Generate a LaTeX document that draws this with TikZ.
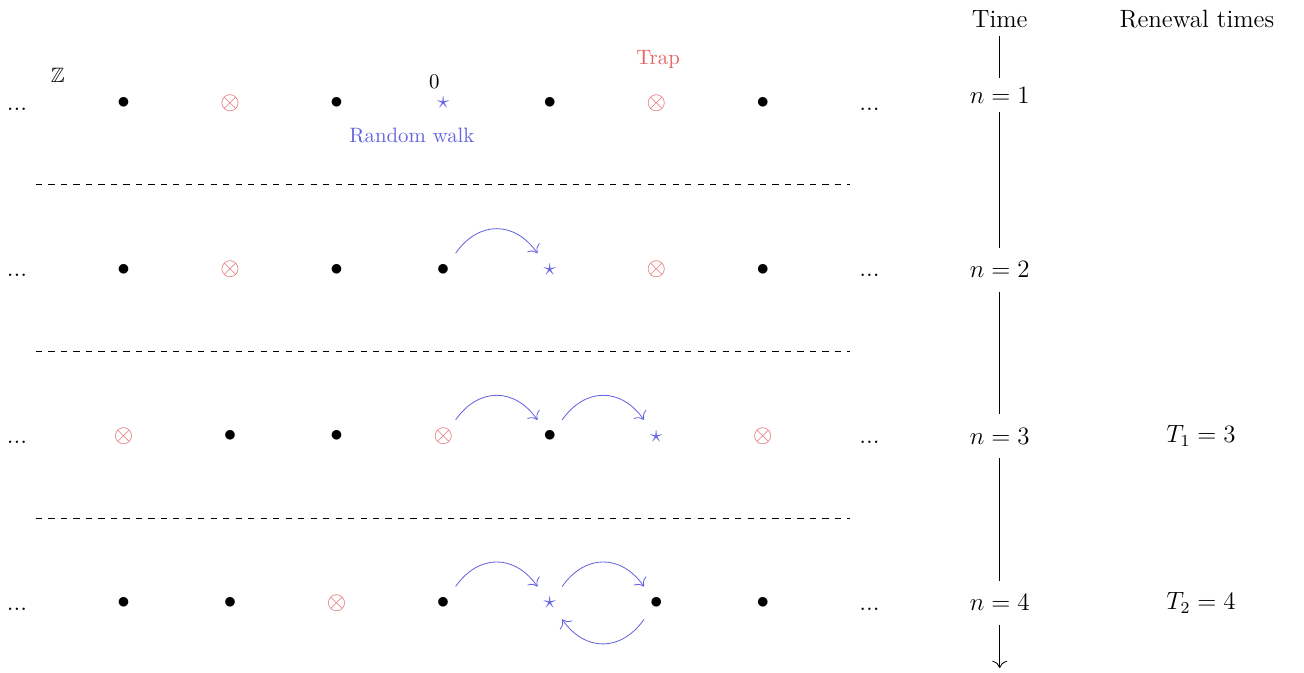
\documentclass[12pt,tikz,border=0pt]{standalone}
\usepackage{amssymb}
\usepackage{amsmath}
\usepackage{tikz}
\usetikzlibrary{arrows.meta}
\definecolor{trapred}{RGB}{225,100,100}
\definecolor{walkblue}{RGB}{100,100,225}
\newcommand{\sitept}{$\bullet$}
\newcommand{\trappt}{\textcolor{trapred}{$\otimes$}}
\newcommand{\walkpt}{\textcolor{walkblue}{$\star$}}

\begin{document}
\begin{tikzpicture}[>={To[scale=1.4]},
  site/.style={circle,inner sep=0pt,minimum size=0.68cm},
  gap/.style={anchor=base,yshift=-0.12cm},
  lbl/.style={font=\footnotesize},
  tlab/.style={inner ysep=6.5pt},
  hop/.style={->,walkblue,out=55,in=125,looseness=1.25},
  hopback/.style={->,walkblue,out=-125,in=-55,looseness=1.25}]
\useasboundingbox (-0.287,-9.628) rectangle (21.74,1.74);
% row n=1
\node[gap] (r1l) at (0,0) {...};
\foreach \s [count=\i] in {\sitept,\trappt,\sitept,\walkpt,\sitept,\trappt,\sitept}
  \node[site] (r1c\i) at (1.8*\i,0) {\s};
\node[gap] (r1r) at (14.4,0) {...};
\node[lbl] (zz) at (0.69,0.47) {$\mathbb{Z}$};
\node[lbl] (zero) at (7.05,0.355) {0};
\node[lbl,text=walkblue] (rw) at (6.67,-0.557) {Random walk};
\node[lbl,text=trapred] (trap) at (10.83,0.743) {Trap};
\draw[dashed] (0.32,-1.38) -- (14.07,-1.38);
% row n=2
\node[gap] (r2l) at (0,-2.815) {...};
\foreach \s [count=\i] in {\sitept,\trappt,\sitept,\sitept,\walkpt,\trappt,\sitept}
  \node[site] (r2c\i) at (1.8*\i,-2.815) {\s};
\node[gap] (r2r) at (14.4,-2.815) {...};
\draw[hop] (r2c4.53) to (r2c5.127);
\draw[dashed] (0.32,-4.19) -- (14.07,-4.19);
% row n=3
\node[gap] (r3l) at (0,-5.63) {...};
\foreach \s [count=\i] in {\trappt,\sitept,\sitept,\trappt,\sitept,\walkpt,\trappt}
  \node[site] (r3c\i) at (1.8*\i,-5.63) {\s};
\node[gap] (r3r) at (14.4,-5.63) {...};
\draw[hop] (r3c4.53) to (r3c5.127);
\draw[hop] (r3c5.53) to (r3c6.127);
\draw[dashed] (0.32,-7.01) -- (14.07,-7.01);
% row n=4
\node[gap] (r4l) at (0,-8.445) {...};
\foreach \s [count=\i] in {\sitept,\sitept,\trappt,\sitept,\walkpt,\sitept,\sitept}
  \node[site] (r4c\i) at (1.8*\i,-8.445) {\s};
\node[gap] (r4r) at (14.4,-8.445) {...};
\draw[hop] (r4c4.53) to (r4c5.127);
\draw[hop] (r4c5.53) to (r4c6.127);
\draw[hopback] (r4c6.233) to (r4c5.307);
% time axis
\node[anchor=base] (time) at (16.6,1.28) {Time};
\node[anchor=base] (n1) at (16.6,0) {$n=1$};
\node[tlab] (n2) at (16.6,-2.815) {$n=2$};
\node[tlab] (n3) at (16.6,-5.63) {$n=3$};
\node[tlab] (n4) at (16.6,-8.445) {$n=4$};
\coordinate (tend) at (16.6,-9.544);
\draw (time) -- (n1) -- (n2) -- (n3) -- (n4);
\draw[->] (n4) -- (tend);
% renewal times
\node[anchor=base] (renew) at (19.93,1.28) {Renewal times};
\node (t1) at (20.0,-5.63) {$T_1=3$};
\node (t2) at (20.0,-8.445) {$T_2=4$};
\end{tikzpicture}
\end{document}
